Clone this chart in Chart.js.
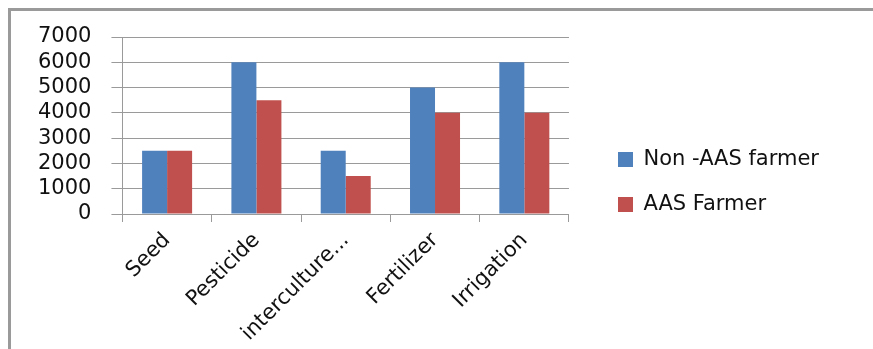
<!DOCTYPE html>
<html>
<head>
<meta charset="utf-8">
<script src="https://cdn.jsdelivr.net/npm/chart.js@4"></script>
<style>
  html, body { margin: 0; padding: 0; background: #fff; }
  #wrap { position: relative; width: 873px; height: 349px; overflow: hidden; }
  #frame {
    position: absolute; left: 8px; top: 8px; right: -10px; bottom: -10px;
    border-left: 3px solid #9a9a9a; border-top: 3px solid #9a9a9a;
  }
  canvas { position: absolute; left: 0; top: 0; }
</style>
</head>
<body>
<div id="wrap">
  <div id="frame"></div>
  <canvas id="chart" width="873" height="349"></canvas>
</div>
<script>
// cost items and the two farmer groups
const categories = ['Seed', 'Pesticide', 'interculture...', 'Fertilizer', 'Irrigation'];
const nonAasFarmer = [2500, 6000, 2500, 5000, 6000];
const aasFarmer = [2500, 4500, 1500, 4000, 4000];
const yTicks = [0, 1000, 2000, 3000, 4000, 5000, 6000, 7000];

const font = { family: 'DejaVu Sans', size: 21 };
const gridColor = '#9a9a9a';

// empty scales used only to reserve space around the plot
function gapScale(axis, position, size) {
  return {
    type: 'linear', axis: axis, position: position, display: true,
    grid: { display: false }, border: { display: false }, ticks: { display: false },
    afterFit: function(s) {
      if (axis === 'x') s.height = size; else s.width = size;
    }
  };
}

new Chart(document.getElementById('chart').getContext('2d'), {
  type: 'bar',
  data: {
    labels: categories,
    datasets: [
      { label: 'Non -AAS farmer', data: nonAasFarmer, backgroundColor: '#4F81BD' },
      { label: 'AAS Farmer', data: aasFarmer, backgroundColor: '#C0504D' }
    ]
  },
  options: {
    responsive: false,
    animation: false,
    categoryPercentage: 0.56,
    barPercentage: 1,
    layout: { padding: { left: 18, top: 15, right: 44, bottom: 0 } },
    plugins: {
      tooltip: { enabled: false },
      legend: {
        position: 'right',
        maxWidth: 320,
        labels: {
          font: font, color: '#111', boxWidth: 15, boxHeight: 15, padding: 24
        }
      }
    },
    scales: {
      x: {
        afterFit: function(s) { s.height = 135; },
        grid: { drawOnChartArea: false, drawTicks: true, tickLength: 8, color: gridColor },
        border: { color: gridColor },
        ticks: { font: font, color: '#111', maxRotation: 45, minRotation: 45, padding: 6, autoSkip: false }
      },
      y: {
        min: 0, max: 7000,
        afterBuildTicks: function(s) { s.ticks = yTicks.map(function(v) { return { value: v }; }); },
        grid: { color: gridColor, tickLength: 11 },
        border: { color: gridColor },
        ticks: {
          font: font, color: '#111', padding: 20, autoSkip: false,
          callback: function(v) { return String(v); }
        }
      },
      gapTop: gapScale('x', 'top', 22),
      gapRight: gapScale('y', 'right', 25)
    }
  }
});
</script>
</body>
</html>
